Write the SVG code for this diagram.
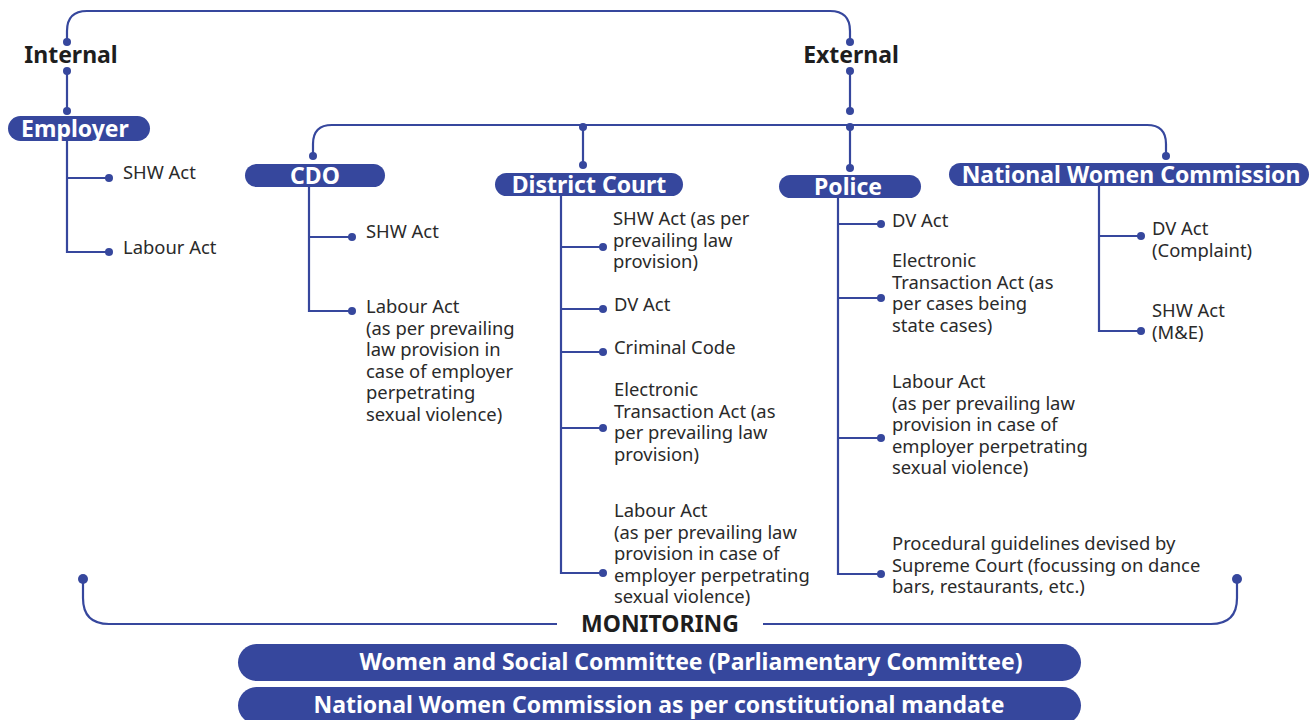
<svg xmlns="http://www.w3.org/2000/svg" width="1314" height="720" viewBox="0 0 1314 720">
  <defs>
    <style>
      .ln { fill: none; stroke: #36479d; stroke-width: 2.2; }
      .dot { fill: #36479d; }
      .pill { fill: #36479d; }
      .pt { font-family: "Noto Sans", "Open Sans", sans-serif; font-weight: bold; font-size: 23px; fill: #ffffff; text-anchor: middle; }
      .hd { font-family: "Noto Sans", "Open Sans", sans-serif; font-weight: bold; font-size: 23px; fill: #1e1e1e; text-anchor: middle; }
      .lb { font-family: "Noto Sans", "Open Sans", sans-serif; font-size: 18.4px; fill: #2a2a2a; }
    </style>
  </defs>

  <rect width="1314" height="720" fill="#ffffff"/>

  <!-- connectors -->
  <g id="connectors">
    <!-- top bracket joining Internal and External -->
    <path class="ln" d="M67,42 V31 Q67,11 87,11 H830 Q850,11 850,31 V42"/>
    <circle class="dot" cx="67" cy="42" r="4"/>
    <circle class="dot" cx="850" cy="42" r="4"/>
    <!-- Internal to Employer -->
    <path class="ln" d="M67,71 V111"/>
    <circle class="dot" cx="67" cy="71" r="4"/>
    <circle class="dot" cx="67" cy="111" r="4"/>
    <!-- External to bar -->
    <path class="ln" d="M850,71 V111"/>
    <circle class="dot" cx="850" cy="71" r="4"/>
    <circle class="dot" cx="850" cy="111" r="4"/>
    <!-- external bar -->
    <path class="ln" d="M313,156 V144 Q313,125 332,125 H1147 Q1166,125 1166,144 V156"/>
    <circle class="dot" cx="313" cy="156" r="4"/>
    <circle class="dot" cx="1166" cy="156" r="4"/>
    <path class="ln" d="M583,127 V165"/>
    <circle class="dot" cx="583" cy="127" r="4"/>
    <circle class="dot" cx="583" cy="165" r="4"/>
    <path class="ln" d="M850,127 V168"/>
    <circle class="dot" cx="850" cy="127" r="4"/>
    <circle class="dot" cx="850" cy="168" r="4"/>

    <!-- Employer branches -->
    <path class="ln" d="M67,141 V252 H109 M67,178 H109"/>
    <circle class="dot" cx="109" cy="178" r="4"/>
    <circle class="dot" cx="109" cy="252" r="4"/>

    <!-- CDO branches -->
    <path class="ln" d="M309,187 V311 H352 M309,237 H352"/>
    <circle class="dot" cx="352" cy="237" r="4"/>
    <circle class="dot" cx="352" cy="311" r="4"/>

    <!-- District Court branches -->
    <path class="ln" d="M561,196 V573 H603 M561,247 H603 M561,309 H603 M561,352 H603 M561,428 H603"/>
    <circle class="dot" cx="603" cy="247" r="4"/>
    <circle class="dot" cx="603" cy="309" r="4"/>
    <circle class="dot" cx="603" cy="352" r="4"/>
    <circle class="dot" cx="603" cy="428" r="4"/>
    <circle class="dot" cx="603" cy="573" r="4"/>

    <!-- Police branches -->
    <path class="ln" d="M838,198 V574 H881 M838,224 H881 M838,298 H881 M838,438 H881"/>
    <circle class="dot" cx="881" cy="224" r="4"/>
    <circle class="dot" cx="881" cy="298" r="4"/>
    <circle class="dot" cx="881" cy="438" r="4"/>
    <circle class="dot" cx="881" cy="574" r="4"/>

    <!-- National Women Commission branches -->
    <path class="ln" d="M1099,186 V331 H1141 M1099,236 H1141"/>
    <circle class="dot" cx="1141" cy="236" r="4"/>
    <circle class="dot" cx="1141" cy="331" r="4"/>

    <!-- monitoring bracket -->
    <path class="ln" d="M83,579 V598 Q83,624 109,624 H557 M763,624 H1211 Q1237,624 1237,598 V579"/>
    <circle class="dot" cx="83" cy="579" r="5"/>
    <circle class="dot" cx="1237" cy="579" r="5"/>
  </g>

  <!-- headings -->
  <g id="internal">
    <text class="hd" x="71" y="63">Internal</text>
  </g>
  <g id="external">
    <text class="hd" x="851" y="63">External</text>
  </g>

  <!-- Employer -->
  <g id="employer">
    <rect class="pill" x="8" y="116" width="142" height="25" rx="12.5"/>
    <text class="pt" x="75" y="137">Employer</text>
    <text class="lb" x="123" y="179">SHW Act</text>
    <text class="lb" x="123" y="254">Labour Act</text>
  </g>

  <!-- CDO -->
  <g id="cdo">
    <rect class="pill" x="245" y="164" width="140" height="23" rx="11.5"/>
    <text class="pt" x="315" y="184">CDO</text>
    <text class="lb" x="366" y="238">SHW Act</text>
    <text class="lb" x="366" y="313">Labour Act</text>
    <text class="lb" x="366" y="335">(as per prevailing</text>
    <text class="lb" x="366" y="356">law provision in</text>
    <text class="lb" x="366" y="378">case of employer</text>
    <text class="lb" x="366" y="399">perpetrating</text>
    <text class="lb" x="366" y="421">sexual violence)</text>
  </g>

  <!-- District Court -->
  <g id="district-court">
    <rect class="pill" x="495" y="173" width="188" height="23" rx="11.5"/>
    <text class="pt" x="589" y="193">District Court</text>
    <text class="lb" x="613" y="225">SHW Act (as per</text>
    <text class="lb" x="613" y="247">prevailing law</text>
    <text class="lb" x="613" y="268">provision)</text>
    <text class="lb" x="614" y="311">DV Act</text>
    <text class="lb" x="614" y="354">Criminal Code</text>
    <text class="lb" x="614" y="396">Electronic</text>
    <text class="lb" x="614" y="418">Transaction Act (as</text>
    <text class="lb" x="614" y="439">per prevailing law</text>
    <text class="lb" x="614" y="461">provision)</text>
    <text class="lb" x="614" y="517">Labour Act</text>
    <text class="lb" x="614" y="539">(as per prevailing law</text>
    <text class="lb" x="614" y="560">provision in case of</text>
    <text class="lb" x="614" y="582">employer perpetrating</text>
    <text class="lb" x="614" y="603">sexual violence)</text>
  </g>

  <!-- Police -->
  <g id="police">
    <rect class="pill" x="779" y="175" width="142" height="23" rx="11.5"/>
    <text class="pt" x="848" y="195">Police</text>
    <text class="lb" x="892" y="227">DV Act</text>
    <text class="lb" x="892" y="267">Electronic</text>
    <text class="lb" x="892" y="289">Transaction Act (as</text>
    <text class="lb" x="892" y="310">per cases being</text>
    <text class="lb" x="892" y="332">state cases)</text>
    <text class="lb" x="892" y="388">Labour Act</text>
    <text class="lb" x="892" y="410">(as per prevailing law</text>
    <text class="lb" x="892" y="431">provision in case of</text>
    <text class="lb" x="892" y="453">employer perpetrating</text>
    <text class="lb" x="892" y="474">sexual violence)</text>
    <text class="lb" x="892" y="550">Procedural guidelines devised by</text>
    <text class="lb" x="892" y="572">Supreme Court (focussing on dance</text>
    <text class="lb" x="892" y="593">bars, restaurants, etc.)</text>
  </g>

  <!-- National Women Commission -->
  <g id="nwc">
    <rect class="pill" x="949" y="163" width="360" height="23" rx="11.5"/>
    <text class="pt" x="1131" y="183">National Women Commission</text>
    <text class="lb" x="1152" y="235">DV Act</text>
    <text class="lb" x="1152" y="257">(Complaint)</text>
    <text class="lb" x="1152" y="317">SHW Act</text>
    <text class="lb" x="1152" y="339">(M&amp;E)</text>
  </g>

  <!-- monitoring -->
  <g id="monitoring">
    <text class="hd" x="660" y="632">MONITORING</text>
  </g>
  <g id="parliamentary-committee">
    <rect class="pill" x="238" y="644" width="843" height="37" rx="18.5"/>
    <text class="pt" x="691" y="670">Women and Social Committee (Parliamentary Committee)</text>
  </g>
  <g id="nwc-mandate">
    <rect class="pill" x="238" y="687" width="843" height="37" rx="18.5"/>
    <text class="pt" x="659" y="713">National Women Commission as per constitutional mandate</text>
  </g>
</svg>
